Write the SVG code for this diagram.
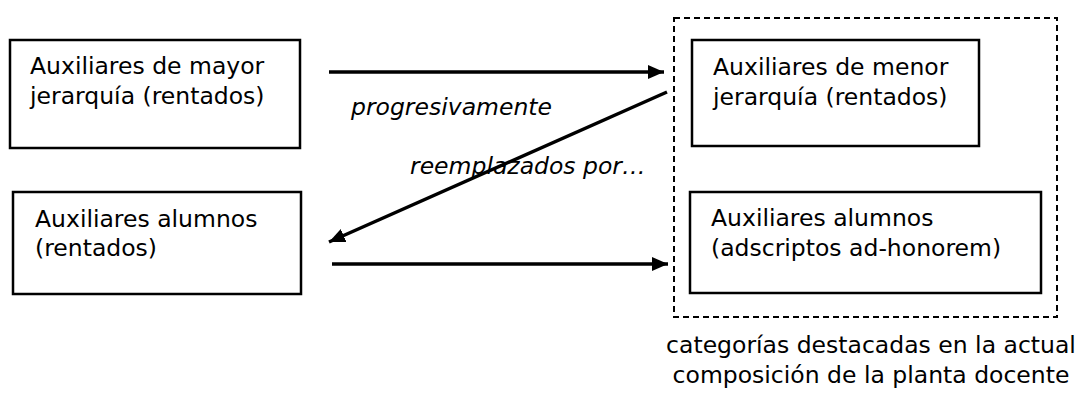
<svg xmlns="http://www.w3.org/2000/svg" width="1081" height="395" viewBox="0 0 1081 395">
<style>
.box{fill:#fff;stroke:#000;stroke-width:2.5}
.t{font-family:"DejaVu Sans",Verdana,sans-serif;font-size:23.5px;fill:#000}
.i{font-style:italic}
.con{stroke:#000;stroke-width:3.5;fill:none}
.dash{fill:none;stroke:#000;stroke-width:2;stroke-dasharray:6 4}
</style>
<defs>
<marker id="ah" markerUnits="userSpaceOnUse" markerWidth="18" markerHeight="16" refX="16" refY="7" orient="auto">
<path d="M0,0 L16,7 L0,14 Z" fill="#000"/>
</marker>
</defs>
<rect class="dash" x="674" y="18" width="383" height="299"/>
<g id="n1"><rect class="box" x="10" y="40" width="290" height="108"/>
<text class="t" x="30" y="74">Auxiliares de mayor</text><text class="t" x="30" y="104">jerarquía (rentados)</text></g>
<g id="n2"><rect class="box" x="13" y="192" width="288" height="102"/>
<text class="t" x="35" y="227">Auxiliares alumnos</text><text class="t" x="35" y="256">(rentados)</text></g>
<g id="n3"><rect class="box" x="692" y="40" width="287" height="106"/>
<text class="t" x="713" y="75">Auxiliares de menor</text><text class="t" x="713" y="105">jerarquía (rentados)</text></g>
<g id="n4"><rect class="box" x="690" y="192" width="351" height="101"/>
<text class="t" x="711" y="226">Auxiliares alumnos</text><text class="t" x="711" y="256">(adscriptos ad-honorem)</text></g>
<g id="connectors">
<line class="con" x1="329" y1="72" x2="664" y2="72" marker-end="url(#ah)"/>
<line class="con" x1="667" y1="92" x2="329" y2="242" marker-end="url(#ah)"/>
<line class="con" x1="332" y1="264" x2="668" y2="264" marker-end="url(#ah)"/>
</g>
<text class="t i" x="351" y="115">progresivamente</text>
<text class="t i" x="410" y="174">reemplazados por…</text>
<text class="t" x="871" y="353" text-anchor="middle">categorías destacadas en la actual</text>
<text class="t" x="871" y="383" text-anchor="middle">composición de la planta docente</text>
</svg>
